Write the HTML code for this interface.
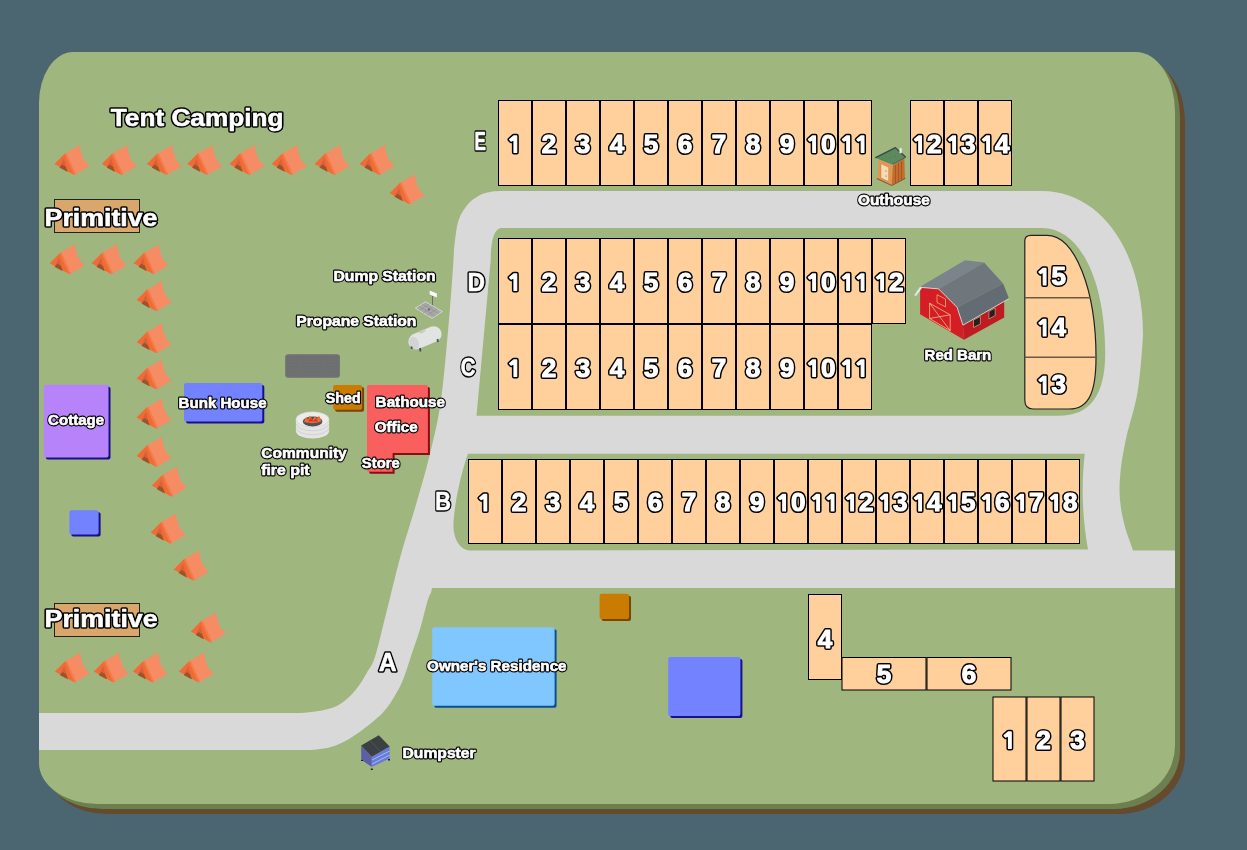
<!DOCTYPE html><html><head><meta charset="utf-8"><style>html,body{margin:0;padding:0;background:#4b6670;}svg{display:block} text{will-change:transform}</style></head><body><svg width="1247" height="850" viewBox="0 0 1247 850"><rect width="1247" height="850" fill="#4b6670"/>
<path d="M 73 52 L 1136 52 A 39 60 0 0 1 1175 112 L 1175 746 A 66 58 0 0 1 1109 804 L 98 804 A 59 41 0 0 1 39 763 L 39 103 A 34 51 0 0 1 73 52 Z" fill="#654a2e" transform="translate(10,10)"/>
<path d="M 73 52 L 1136 52 A 39 60 0 0 1 1175 112 L 1175 746 A 66 58 0 0 1 1109 804 L 98 804 A 59 41 0 0 1 39 763 L 39 103 A 34 51 0 0 1 73 52 Z" fill="#6e7f4f" transform="translate(5,5)"/>
<path d="M 73 52 L 1136 52 A 39 60 0 0 1 1175 112 L 1175 746 A 66 58 0 0 1 1109 804 L 98 804 A 59 41 0 0 1 39 763 L 39 103 A 34 51 0 0 1 73 52 Z" fill="#9fb77f"/>
<path d="M 39 713 L 300 713 C 313.3 712.2 322.3 710.7 330.0 708.5 C 337.7 706.3 341.3 703.4 346.0 699.7 C 350.7 696.0 354.8 691.0 358.2 686.5 C 361.6 682.0 363.9 678.0 366.7 673.0 C 369.5 668.0 371.8 666.6 375.1 656.4 C 378.4 646.2 382.2 628.8 386.5 612.0 C 390.8 595.2 395.7 573.5 400.7 555.4 C 405.7 537.3 411.3 520.9 416.3 503.6 C 421.3 486.3 426.4 469.1 430.5 451.8 C 434.6 434.5 437.9 422.0 441.0 400.0 C 444.1 378.0 446.9 343.3 449.0 320.0 C 451.1 296.7 452.6 272.1 453.5 260.0 C 454.4 247.9 453.4 254.0 454.2 247.4 C 455.0 240.8 456.2 227.6 458.5 220.4 C 460.8 213.2 464.9 208.0 468.1 204.0 C 471.3 200.0 474.5 198.3 477.7 196.4 C 480.9 194.5 483.3 193.4 487.4 192.5 C 491.4 191.6 493.2 191.2 502.0 191.0 L 1042 191 C 1100 191 1143 250 1143 335 C 1142.1 350.3 1140.4 374.5 1137.6 391.8 C 1134.8 409.1 1128.8 425.4 1126.0 438.8 C 1123.2 452.2 1121.5 461.8 1120.5 472.0 C 1119.5 482.2 1119.2 490.8 1120.0 500.0 C 1120.8 509.2 1122.8 518.6 1125.0 527.0 C 1127.2 535.4 1130.2 541.7 1133.0 550.5 L 1175 550.5 L 1175 588 L 432 588 C 431.0 594.7 429.9 593.3 427.8 600.0 C 425.7 606.7 423.1 618.8 420.3 628.2 C 417.5 637.6 413.7 647.9 410.9 656.4 C 408.1 664.9 405.8 672.7 403.3 679.0 C 400.8 685.3 399.2 688.4 395.8 694.0 C 392.4 699.6 388.7 706.5 382.7 712.8 C 376.7 719.1 367.5 726.4 360.0 731.7 C 352.5 737.0 344.7 741.8 337.5 744.8 C 330.3 747.8 324.9 748.6 317.0 749.5 C 309.1 750.4 301.2 749.9 290.0 750.0 L 39 750 Z" fill="#d9d9d9"/>
<path d="M 502 228 L 1042 228 C 1080 228 1105.2 280 1105.2 353.4 C 1105.2 395 1090 415.7 1059 415.7 L 476.5 415.7 L 490.7 260 C 491 240 494 228 502 228 Z" fill="#9fb77f"/>
<path d="M 468 453.8 L 1084.7 453.8 C 1082 480 1081 510 1088 549.5 L 470 550.5 C 458 550 452 535 453.7 520 C 455 500 462 470 468 453.8 Z" fill="#9fb77f"/>
<rect x="498.5" y="100.5" width="33" height="85" fill="#ffd09b" stroke="#000" stroke-width="1"/>
<rect x="532.5" y="100.5" width="33" height="85" fill="#ffd09b" stroke="#000" stroke-width="1"/>
<rect x="566.5" y="100.5" width="33" height="85" fill="#ffd09b" stroke="#000" stroke-width="1"/>
<rect x="600.5" y="100.5" width="33" height="85" fill="#ffd09b" stroke="#000" stroke-width="1"/>
<rect x="634.5" y="100.5" width="33" height="85" fill="#ffd09b" stroke="#000" stroke-width="1"/>
<rect x="668.5" y="100.5" width="33" height="85" fill="#ffd09b" stroke="#000" stroke-width="1"/>
<rect x="702.5" y="100.5" width="33" height="85" fill="#ffd09b" stroke="#000" stroke-width="1"/>
<rect x="736.5" y="100.5" width="33" height="85" fill="#ffd09b" stroke="#000" stroke-width="1"/>
<rect x="770.5" y="100.5" width="33" height="85" fill="#ffd09b" stroke="#000" stroke-width="1"/>
<rect x="804.5" y="100.5" width="33" height="85" fill="#ffd09b" stroke="#000" stroke-width="1"/>
<rect x="838.5" y="100.5" width="33" height="85" fill="#ffd09b" stroke="#000" stroke-width="1"/>
<path d="M -1.3 -16.6 L 1.7 -16.6 L 1.7 0 L -1.0 0 L -1.0 -12.7 L -3.9 -11.3 L -5.4 -13.0 Z" transform="translate(515.00,152.5)" fill="#000" stroke="#000" stroke-width="4.2" stroke-linejoin="round"/>
<path d="M -1.3 -16.6 L 1.7 -16.6 L 1.7 0 L -1.0 0 L -1.0 -12.7 L -3.9 -11.3 L -5.4 -13.0 Z" transform="translate(515.00,152.5)" fill="#fff" stroke="#fff" stroke-width="1.2" stroke-linejoin="round"/>
<text x="549.00" y="152.5" font-size="26" text-anchor="middle" font-family="Liberation Sans" font-weight="bold" stroke-linejoin="round" fill="#000" stroke="#000" stroke-width="4.2">2</text>
<text x="549.00" y="152.5" font-size="26" text-anchor="middle" font-family="Liberation Sans" font-weight="bold" stroke-linejoin="round" fill="#fff" stroke="#fff" stroke-width="1.2">2</text>
<text x="583.00" y="152.5" font-size="26" text-anchor="middle" font-family="Liberation Sans" font-weight="bold" stroke-linejoin="round" fill="#000" stroke="#000" stroke-width="4.2">3</text>
<text x="583.00" y="152.5" font-size="26" text-anchor="middle" font-family="Liberation Sans" font-weight="bold" stroke-linejoin="round" fill="#fff" stroke="#fff" stroke-width="1.2">3</text>
<text x="617.00" y="152.5" font-size="26" text-anchor="middle" font-family="Liberation Sans" font-weight="bold" stroke-linejoin="round" fill="#000" stroke="#000" stroke-width="4.2">4</text>
<text x="617.00" y="152.5" font-size="26" text-anchor="middle" font-family="Liberation Sans" font-weight="bold" stroke-linejoin="round" fill="#fff" stroke="#fff" stroke-width="1.2">4</text>
<text x="651.00" y="152.5" font-size="26" text-anchor="middle" font-family="Liberation Sans" font-weight="bold" stroke-linejoin="round" fill="#000" stroke="#000" stroke-width="4.2">5</text>
<text x="651.00" y="152.5" font-size="26" text-anchor="middle" font-family="Liberation Sans" font-weight="bold" stroke-linejoin="round" fill="#fff" stroke="#fff" stroke-width="1.2">5</text>
<text x="685.00" y="152.5" font-size="26" text-anchor="middle" font-family="Liberation Sans" font-weight="bold" stroke-linejoin="round" fill="#000" stroke="#000" stroke-width="4.2">6</text>
<text x="685.00" y="152.5" font-size="26" text-anchor="middle" font-family="Liberation Sans" font-weight="bold" stroke-linejoin="round" fill="#fff" stroke="#fff" stroke-width="1.2">6</text>
<text x="719.00" y="152.5" font-size="26" text-anchor="middle" font-family="Liberation Sans" font-weight="bold" stroke-linejoin="round" fill="#000" stroke="#000" stroke-width="4.2">7</text>
<text x="719.00" y="152.5" font-size="26" text-anchor="middle" font-family="Liberation Sans" font-weight="bold" stroke-linejoin="round" fill="#fff" stroke="#fff" stroke-width="1.2">7</text>
<text x="753.00" y="152.5" font-size="26" text-anchor="middle" font-family="Liberation Sans" font-weight="bold" stroke-linejoin="round" fill="#000" stroke="#000" stroke-width="4.2">8</text>
<text x="753.00" y="152.5" font-size="26" text-anchor="middle" font-family="Liberation Sans" font-weight="bold" stroke-linejoin="round" fill="#fff" stroke="#fff" stroke-width="1.2">8</text>
<text x="787.00" y="152.5" font-size="26" text-anchor="middle" font-family="Liberation Sans" font-weight="bold" stroke-linejoin="round" fill="#000" stroke="#000" stroke-width="4.2">9</text>
<text x="787.00" y="152.5" font-size="26" text-anchor="middle" font-family="Liberation Sans" font-weight="bold" stroke-linejoin="round" fill="#fff" stroke="#fff" stroke-width="1.2">9</text>
<path d="M -1.3 -16.6 L 1.7 -16.6 L 1.7 0 L -1.0 0 L -1.0 -12.7 L -3.9 -11.3 L -5.4 -13.0 Z" transform="translate(813.77,152.5)" fill="#000" stroke="#000" stroke-width="4.2" stroke-linejoin="round"/>
<text x="828.23" y="152.5" font-size="26" text-anchor="middle" font-family="Liberation Sans" font-weight="bold" stroke-linejoin="round" fill="#000" stroke="#000" stroke-width="4.2">0</text>
<path d="M -1.3 -16.6 L 1.7 -16.6 L 1.7 0 L -1.0 0 L -1.0 -12.7 L -3.9 -11.3 L -5.4 -13.0 Z" transform="translate(813.77,152.5)" fill="#fff" stroke="#fff" stroke-width="1.2" stroke-linejoin="round"/>
<text x="828.23" y="152.5" font-size="26" text-anchor="middle" font-family="Liberation Sans" font-weight="bold" stroke-linejoin="round" fill="#fff" stroke="#fff" stroke-width="1.2">0</text>
<path d="M -1.3 -16.6 L 1.7 -16.6 L 1.7 0 L -1.0 0 L -1.0 -12.7 L -3.9 -11.3 L -5.4 -13.0 Z" transform="translate(847.77,152.5)" fill="#000" stroke="#000" stroke-width="4.2" stroke-linejoin="round"/>
<path d="M -1.3 -16.6 L 1.7 -16.6 L 1.7 0 L -1.0 0 L -1.0 -12.7 L -3.9 -11.3 L -5.4 -13.0 Z" transform="translate(862.23,152.5)" fill="#000" stroke="#000" stroke-width="4.2" stroke-linejoin="round"/>
<path d="M -1.3 -16.6 L 1.7 -16.6 L 1.7 0 L -1.0 0 L -1.0 -12.7 L -3.9 -11.3 L -5.4 -13.0 Z" transform="translate(847.77,152.5)" fill="#fff" stroke="#fff" stroke-width="1.2" stroke-linejoin="round"/>
<path d="M -1.3 -16.6 L 1.7 -16.6 L 1.7 0 L -1.0 0 L -1.0 -12.7 L -3.9 -11.3 L -5.4 -13.0 Z" transform="translate(862.23,152.5)" fill="#fff" stroke="#fff" stroke-width="1.2" stroke-linejoin="round"/>
<rect x="910.5" y="100.5" width="33" height="85" fill="#ffd09b" stroke="#000" stroke-width="1"/>
<rect x="944.5" y="100.5" width="33" height="85" fill="#ffd09b" stroke="#000" stroke-width="1"/>
<rect x="978.5" y="100.5" width="33" height="85" fill="#ffd09b" stroke="#000" stroke-width="1"/>
<path d="M -1.3 -16.6 L 1.7 -16.6 L 1.7 0 L -1.0 0 L -1.0 -12.7 L -3.9 -11.3 L -5.4 -13.0 Z" transform="translate(919.77,152.5)" fill="#000" stroke="#000" stroke-width="4.2" stroke-linejoin="round"/>
<text x="934.23" y="152.5" font-size="26" text-anchor="middle" font-family="Liberation Sans" font-weight="bold" stroke-linejoin="round" fill="#000" stroke="#000" stroke-width="4.2">2</text>
<path d="M -1.3 -16.6 L 1.7 -16.6 L 1.7 0 L -1.0 0 L -1.0 -12.7 L -3.9 -11.3 L -5.4 -13.0 Z" transform="translate(919.77,152.5)" fill="#fff" stroke="#fff" stroke-width="1.2" stroke-linejoin="round"/>
<text x="934.23" y="152.5" font-size="26" text-anchor="middle" font-family="Liberation Sans" font-weight="bold" stroke-linejoin="round" fill="#fff" stroke="#fff" stroke-width="1.2">2</text>
<path d="M -1.3 -16.6 L 1.7 -16.6 L 1.7 0 L -1.0 0 L -1.0 -12.7 L -3.9 -11.3 L -5.4 -13.0 Z" transform="translate(953.77,152.5)" fill="#000" stroke="#000" stroke-width="4.2" stroke-linejoin="round"/>
<text x="968.23" y="152.5" font-size="26" text-anchor="middle" font-family="Liberation Sans" font-weight="bold" stroke-linejoin="round" fill="#000" stroke="#000" stroke-width="4.2">3</text>
<path d="M -1.3 -16.6 L 1.7 -16.6 L 1.7 0 L -1.0 0 L -1.0 -12.7 L -3.9 -11.3 L -5.4 -13.0 Z" transform="translate(953.77,152.5)" fill="#fff" stroke="#fff" stroke-width="1.2" stroke-linejoin="round"/>
<text x="968.23" y="152.5" font-size="26" text-anchor="middle" font-family="Liberation Sans" font-weight="bold" stroke-linejoin="round" fill="#fff" stroke="#fff" stroke-width="1.2">3</text>
<path d="M -1.3 -16.6 L 1.7 -16.6 L 1.7 0 L -1.0 0 L -1.0 -12.7 L -3.9 -11.3 L -5.4 -13.0 Z" transform="translate(987.77,152.5)" fill="#000" stroke="#000" stroke-width="4.2" stroke-linejoin="round"/>
<text x="1002.23" y="152.5" font-size="26" text-anchor="middle" font-family="Liberation Sans" font-weight="bold" stroke-linejoin="round" fill="#000" stroke="#000" stroke-width="4.2">4</text>
<path d="M -1.3 -16.6 L 1.7 -16.6 L 1.7 0 L -1.0 0 L -1.0 -12.7 L -3.9 -11.3 L -5.4 -13.0 Z" transform="translate(987.77,152.5)" fill="#fff" stroke="#fff" stroke-width="1.2" stroke-linejoin="round"/>
<text x="1002.23" y="152.5" font-size="26" text-anchor="middle" font-family="Liberation Sans" font-weight="bold" stroke-linejoin="round" fill="#fff" stroke="#fff" stroke-width="1.2">4</text>
<rect x="498.5" y="238.5" width="33" height="85" fill="#ffd09b" stroke="#000" stroke-width="1"/>
<rect x="532.5" y="238.5" width="33" height="85" fill="#ffd09b" stroke="#000" stroke-width="1"/>
<rect x="566.5" y="238.5" width="33" height="85" fill="#ffd09b" stroke="#000" stroke-width="1"/>
<rect x="600.5" y="238.5" width="33" height="85" fill="#ffd09b" stroke="#000" stroke-width="1"/>
<rect x="634.5" y="238.5" width="33" height="85" fill="#ffd09b" stroke="#000" stroke-width="1"/>
<rect x="668.5" y="238.5" width="33" height="85" fill="#ffd09b" stroke="#000" stroke-width="1"/>
<rect x="702.5" y="238.5" width="33" height="85" fill="#ffd09b" stroke="#000" stroke-width="1"/>
<rect x="736.5" y="238.5" width="33" height="85" fill="#ffd09b" stroke="#000" stroke-width="1"/>
<rect x="770.5" y="238.5" width="33" height="85" fill="#ffd09b" stroke="#000" stroke-width="1"/>
<rect x="804.5" y="238.5" width="33" height="85" fill="#ffd09b" stroke="#000" stroke-width="1"/>
<rect x="838.5" y="238.5" width="33" height="85" fill="#ffd09b" stroke="#000" stroke-width="1"/>
<rect x="872.5" y="238.5" width="33" height="85" fill="#ffd09b" stroke="#000" stroke-width="1"/>
<path d="M -1.3 -16.6 L 1.7 -16.6 L 1.7 0 L -1.0 0 L -1.0 -12.7 L -3.9 -11.3 L -5.4 -13.0 Z" transform="translate(515.00,290.5)" fill="#000" stroke="#000" stroke-width="4.2" stroke-linejoin="round"/>
<path d="M -1.3 -16.6 L 1.7 -16.6 L 1.7 0 L -1.0 0 L -1.0 -12.7 L -3.9 -11.3 L -5.4 -13.0 Z" transform="translate(515.00,290.5)" fill="#fff" stroke="#fff" stroke-width="1.2" stroke-linejoin="round"/>
<text x="549.00" y="290.5" font-size="26" text-anchor="middle" font-family="Liberation Sans" font-weight="bold" stroke-linejoin="round" fill="#000" stroke="#000" stroke-width="4.2">2</text>
<text x="549.00" y="290.5" font-size="26" text-anchor="middle" font-family="Liberation Sans" font-weight="bold" stroke-linejoin="round" fill="#fff" stroke="#fff" stroke-width="1.2">2</text>
<text x="583.00" y="290.5" font-size="26" text-anchor="middle" font-family="Liberation Sans" font-weight="bold" stroke-linejoin="round" fill="#000" stroke="#000" stroke-width="4.2">3</text>
<text x="583.00" y="290.5" font-size="26" text-anchor="middle" font-family="Liberation Sans" font-weight="bold" stroke-linejoin="round" fill="#fff" stroke="#fff" stroke-width="1.2">3</text>
<text x="617.00" y="290.5" font-size="26" text-anchor="middle" font-family="Liberation Sans" font-weight="bold" stroke-linejoin="round" fill="#000" stroke="#000" stroke-width="4.2">4</text>
<text x="617.00" y="290.5" font-size="26" text-anchor="middle" font-family="Liberation Sans" font-weight="bold" stroke-linejoin="round" fill="#fff" stroke="#fff" stroke-width="1.2">4</text>
<text x="651.00" y="290.5" font-size="26" text-anchor="middle" font-family="Liberation Sans" font-weight="bold" stroke-linejoin="round" fill="#000" stroke="#000" stroke-width="4.2">5</text>
<text x="651.00" y="290.5" font-size="26" text-anchor="middle" font-family="Liberation Sans" font-weight="bold" stroke-linejoin="round" fill="#fff" stroke="#fff" stroke-width="1.2">5</text>
<text x="685.00" y="290.5" font-size="26" text-anchor="middle" font-family="Liberation Sans" font-weight="bold" stroke-linejoin="round" fill="#000" stroke="#000" stroke-width="4.2">6</text>
<text x="685.00" y="290.5" font-size="26" text-anchor="middle" font-family="Liberation Sans" font-weight="bold" stroke-linejoin="round" fill="#fff" stroke="#fff" stroke-width="1.2">6</text>
<text x="719.00" y="290.5" font-size="26" text-anchor="middle" font-family="Liberation Sans" font-weight="bold" stroke-linejoin="round" fill="#000" stroke="#000" stroke-width="4.2">7</text>
<text x="719.00" y="290.5" font-size="26" text-anchor="middle" font-family="Liberation Sans" font-weight="bold" stroke-linejoin="round" fill="#fff" stroke="#fff" stroke-width="1.2">7</text>
<text x="753.00" y="290.5" font-size="26" text-anchor="middle" font-family="Liberation Sans" font-weight="bold" stroke-linejoin="round" fill="#000" stroke="#000" stroke-width="4.2">8</text>
<text x="753.00" y="290.5" font-size="26" text-anchor="middle" font-family="Liberation Sans" font-weight="bold" stroke-linejoin="round" fill="#fff" stroke="#fff" stroke-width="1.2">8</text>
<text x="787.00" y="290.5" font-size="26" text-anchor="middle" font-family="Liberation Sans" font-weight="bold" stroke-linejoin="round" fill="#000" stroke="#000" stroke-width="4.2">9</text>
<text x="787.00" y="290.5" font-size="26" text-anchor="middle" font-family="Liberation Sans" font-weight="bold" stroke-linejoin="round" fill="#fff" stroke="#fff" stroke-width="1.2">9</text>
<path d="M -1.3 -16.6 L 1.7 -16.6 L 1.7 0 L -1.0 0 L -1.0 -12.7 L -3.9 -11.3 L -5.4 -13.0 Z" transform="translate(813.77,290.5)" fill="#000" stroke="#000" stroke-width="4.2" stroke-linejoin="round"/>
<text x="828.23" y="290.5" font-size="26" text-anchor="middle" font-family="Liberation Sans" font-weight="bold" stroke-linejoin="round" fill="#000" stroke="#000" stroke-width="4.2">0</text>
<path d="M -1.3 -16.6 L 1.7 -16.6 L 1.7 0 L -1.0 0 L -1.0 -12.7 L -3.9 -11.3 L -5.4 -13.0 Z" transform="translate(813.77,290.5)" fill="#fff" stroke="#fff" stroke-width="1.2" stroke-linejoin="round"/>
<text x="828.23" y="290.5" font-size="26" text-anchor="middle" font-family="Liberation Sans" font-weight="bold" stroke-linejoin="round" fill="#fff" stroke="#fff" stroke-width="1.2">0</text>
<path d="M -1.3 -16.6 L 1.7 -16.6 L 1.7 0 L -1.0 0 L -1.0 -12.7 L -3.9 -11.3 L -5.4 -13.0 Z" transform="translate(847.77,290.5)" fill="#000" stroke="#000" stroke-width="4.2" stroke-linejoin="round"/>
<path d="M -1.3 -16.6 L 1.7 -16.6 L 1.7 0 L -1.0 0 L -1.0 -12.7 L -3.9 -11.3 L -5.4 -13.0 Z" transform="translate(862.23,290.5)" fill="#000" stroke="#000" stroke-width="4.2" stroke-linejoin="round"/>
<path d="M -1.3 -16.6 L 1.7 -16.6 L 1.7 0 L -1.0 0 L -1.0 -12.7 L -3.9 -11.3 L -5.4 -13.0 Z" transform="translate(847.77,290.5)" fill="#fff" stroke="#fff" stroke-width="1.2" stroke-linejoin="round"/>
<path d="M -1.3 -16.6 L 1.7 -16.6 L 1.7 0 L -1.0 0 L -1.0 -12.7 L -3.9 -11.3 L -5.4 -13.0 Z" transform="translate(862.23,290.5)" fill="#fff" stroke="#fff" stroke-width="1.2" stroke-linejoin="round"/>
<path d="M -1.3 -16.6 L 1.7 -16.6 L 1.7 0 L -1.0 0 L -1.0 -12.7 L -3.9 -11.3 L -5.4 -13.0 Z" transform="translate(881.77,290.5)" fill="#000" stroke="#000" stroke-width="4.2" stroke-linejoin="round"/>
<text x="896.23" y="290.5" font-size="26" text-anchor="middle" font-family="Liberation Sans" font-weight="bold" stroke-linejoin="round" fill="#000" stroke="#000" stroke-width="4.2">2</text>
<path d="M -1.3 -16.6 L 1.7 -16.6 L 1.7 0 L -1.0 0 L -1.0 -12.7 L -3.9 -11.3 L -5.4 -13.0 Z" transform="translate(881.77,290.5)" fill="#fff" stroke="#fff" stroke-width="1.2" stroke-linejoin="round"/>
<text x="896.23" y="290.5" font-size="26" text-anchor="middle" font-family="Liberation Sans" font-weight="bold" stroke-linejoin="round" fill="#fff" stroke="#fff" stroke-width="1.2">2</text>
<rect x="498.5" y="324.5" width="33" height="85" fill="#ffd09b" stroke="#000" stroke-width="1"/>
<rect x="532.5" y="324.5" width="33" height="85" fill="#ffd09b" stroke="#000" stroke-width="1"/>
<rect x="566.5" y="324.5" width="33" height="85" fill="#ffd09b" stroke="#000" stroke-width="1"/>
<rect x="600.5" y="324.5" width="33" height="85" fill="#ffd09b" stroke="#000" stroke-width="1"/>
<rect x="634.5" y="324.5" width="33" height="85" fill="#ffd09b" stroke="#000" stroke-width="1"/>
<rect x="668.5" y="324.5" width="33" height="85" fill="#ffd09b" stroke="#000" stroke-width="1"/>
<rect x="702.5" y="324.5" width="33" height="85" fill="#ffd09b" stroke="#000" stroke-width="1"/>
<rect x="736.5" y="324.5" width="33" height="85" fill="#ffd09b" stroke="#000" stroke-width="1"/>
<rect x="770.5" y="324.5" width="33" height="85" fill="#ffd09b" stroke="#000" stroke-width="1"/>
<rect x="804.5" y="324.5" width="33" height="85" fill="#ffd09b" stroke="#000" stroke-width="1"/>
<rect x="838.5" y="324.5" width="33" height="85" fill="#ffd09b" stroke="#000" stroke-width="1"/>
<path d="M -1.3 -16.6 L 1.7 -16.6 L 1.7 0 L -1.0 0 L -1.0 -12.7 L -3.9 -11.3 L -5.4 -13.0 Z" transform="translate(515.00,376.5)" fill="#000" stroke="#000" stroke-width="4.2" stroke-linejoin="round"/>
<path d="M -1.3 -16.6 L 1.7 -16.6 L 1.7 0 L -1.0 0 L -1.0 -12.7 L -3.9 -11.3 L -5.4 -13.0 Z" transform="translate(515.00,376.5)" fill="#fff" stroke="#fff" stroke-width="1.2" stroke-linejoin="round"/>
<text x="549.00" y="376.5" font-size="26" text-anchor="middle" font-family="Liberation Sans" font-weight="bold" stroke-linejoin="round" fill="#000" stroke="#000" stroke-width="4.2">2</text>
<text x="549.00" y="376.5" font-size="26" text-anchor="middle" font-family="Liberation Sans" font-weight="bold" stroke-linejoin="round" fill="#fff" stroke="#fff" stroke-width="1.2">2</text>
<text x="583.00" y="376.5" font-size="26" text-anchor="middle" font-family="Liberation Sans" font-weight="bold" stroke-linejoin="round" fill="#000" stroke="#000" stroke-width="4.2">3</text>
<text x="583.00" y="376.5" font-size="26" text-anchor="middle" font-family="Liberation Sans" font-weight="bold" stroke-linejoin="round" fill="#fff" stroke="#fff" stroke-width="1.2">3</text>
<text x="617.00" y="376.5" font-size="26" text-anchor="middle" font-family="Liberation Sans" font-weight="bold" stroke-linejoin="round" fill="#000" stroke="#000" stroke-width="4.2">4</text>
<text x="617.00" y="376.5" font-size="26" text-anchor="middle" font-family="Liberation Sans" font-weight="bold" stroke-linejoin="round" fill="#fff" stroke="#fff" stroke-width="1.2">4</text>
<text x="651.00" y="376.5" font-size="26" text-anchor="middle" font-family="Liberation Sans" font-weight="bold" stroke-linejoin="round" fill="#000" stroke="#000" stroke-width="4.2">5</text>
<text x="651.00" y="376.5" font-size="26" text-anchor="middle" font-family="Liberation Sans" font-weight="bold" stroke-linejoin="round" fill="#fff" stroke="#fff" stroke-width="1.2">5</text>
<text x="685.00" y="376.5" font-size="26" text-anchor="middle" font-family="Liberation Sans" font-weight="bold" stroke-linejoin="round" fill="#000" stroke="#000" stroke-width="4.2">6</text>
<text x="685.00" y="376.5" font-size="26" text-anchor="middle" font-family="Liberation Sans" font-weight="bold" stroke-linejoin="round" fill="#fff" stroke="#fff" stroke-width="1.2">6</text>
<text x="719.00" y="376.5" font-size="26" text-anchor="middle" font-family="Liberation Sans" font-weight="bold" stroke-linejoin="round" fill="#000" stroke="#000" stroke-width="4.2">7</text>
<text x="719.00" y="376.5" font-size="26" text-anchor="middle" font-family="Liberation Sans" font-weight="bold" stroke-linejoin="round" fill="#fff" stroke="#fff" stroke-width="1.2">7</text>
<text x="753.00" y="376.5" font-size="26" text-anchor="middle" font-family="Liberation Sans" font-weight="bold" stroke-linejoin="round" fill="#000" stroke="#000" stroke-width="4.2">8</text>
<text x="753.00" y="376.5" font-size="26" text-anchor="middle" font-family="Liberation Sans" font-weight="bold" stroke-linejoin="round" fill="#fff" stroke="#fff" stroke-width="1.2">8</text>
<text x="787.00" y="376.5" font-size="26" text-anchor="middle" font-family="Liberation Sans" font-weight="bold" stroke-linejoin="round" fill="#000" stroke="#000" stroke-width="4.2">9</text>
<text x="787.00" y="376.5" font-size="26" text-anchor="middle" font-family="Liberation Sans" font-weight="bold" stroke-linejoin="round" fill="#fff" stroke="#fff" stroke-width="1.2">9</text>
<path d="M -1.3 -16.6 L 1.7 -16.6 L 1.7 0 L -1.0 0 L -1.0 -12.7 L -3.9 -11.3 L -5.4 -13.0 Z" transform="translate(813.77,376.5)" fill="#000" stroke="#000" stroke-width="4.2" stroke-linejoin="round"/>
<text x="828.23" y="376.5" font-size="26" text-anchor="middle" font-family="Liberation Sans" font-weight="bold" stroke-linejoin="round" fill="#000" stroke="#000" stroke-width="4.2">0</text>
<path d="M -1.3 -16.6 L 1.7 -16.6 L 1.7 0 L -1.0 0 L -1.0 -12.7 L -3.9 -11.3 L -5.4 -13.0 Z" transform="translate(813.77,376.5)" fill="#fff" stroke="#fff" stroke-width="1.2" stroke-linejoin="round"/>
<text x="828.23" y="376.5" font-size="26" text-anchor="middle" font-family="Liberation Sans" font-weight="bold" stroke-linejoin="round" fill="#fff" stroke="#fff" stroke-width="1.2">0</text>
<path d="M -1.3 -16.6 L 1.7 -16.6 L 1.7 0 L -1.0 0 L -1.0 -12.7 L -3.9 -11.3 L -5.4 -13.0 Z" transform="translate(847.77,376.5)" fill="#000" stroke="#000" stroke-width="4.2" stroke-linejoin="round"/>
<path d="M -1.3 -16.6 L 1.7 -16.6 L 1.7 0 L -1.0 0 L -1.0 -12.7 L -3.9 -11.3 L -5.4 -13.0 Z" transform="translate(862.23,376.5)" fill="#000" stroke="#000" stroke-width="4.2" stroke-linejoin="round"/>
<path d="M -1.3 -16.6 L 1.7 -16.6 L 1.7 0 L -1.0 0 L -1.0 -12.7 L -3.9 -11.3 L -5.4 -13.0 Z" transform="translate(847.77,376.5)" fill="#fff" stroke="#fff" stroke-width="1.2" stroke-linejoin="round"/>
<path d="M -1.3 -16.6 L 1.7 -16.6 L 1.7 0 L -1.0 0 L -1.0 -12.7 L -3.9 -11.3 L -5.4 -13.0 Z" transform="translate(862.23,376.5)" fill="#fff" stroke="#fff" stroke-width="1.2" stroke-linejoin="round"/>
<rect x="468.5" y="459.5" width="33" height="84" fill="#ffd09b" stroke="#000" stroke-width="1"/>
<rect x="502.5" y="459.5" width="33" height="84" fill="#ffd09b" stroke="#000" stroke-width="1"/>
<rect x="536.5" y="459.5" width="33" height="84" fill="#ffd09b" stroke="#000" stroke-width="1"/>
<rect x="570.5" y="459.5" width="33" height="84" fill="#ffd09b" stroke="#000" stroke-width="1"/>
<rect x="604.5" y="459.5" width="33" height="84" fill="#ffd09b" stroke="#000" stroke-width="1"/>
<rect x="638.5" y="459.5" width="33" height="84" fill="#ffd09b" stroke="#000" stroke-width="1"/>
<rect x="672.5" y="459.5" width="33" height="84" fill="#ffd09b" stroke="#000" stroke-width="1"/>
<rect x="706.5" y="459.5" width="33" height="84" fill="#ffd09b" stroke="#000" stroke-width="1"/>
<rect x="740.5" y="459.5" width="33" height="84" fill="#ffd09b" stroke="#000" stroke-width="1"/>
<rect x="774.5" y="459.5" width="33" height="84" fill="#ffd09b" stroke="#000" stroke-width="1"/>
<rect x="808.5" y="459.5" width="33" height="84" fill="#ffd09b" stroke="#000" stroke-width="1"/>
<rect x="842.5" y="459.5" width="33" height="84" fill="#ffd09b" stroke="#000" stroke-width="1"/>
<rect x="876.5" y="459.5" width="33" height="84" fill="#ffd09b" stroke="#000" stroke-width="1"/>
<rect x="910.5" y="459.5" width="33" height="84" fill="#ffd09b" stroke="#000" stroke-width="1"/>
<rect x="944.5" y="459.5" width="33" height="84" fill="#ffd09b" stroke="#000" stroke-width="1"/>
<rect x="978.5" y="459.5" width="33" height="84" fill="#ffd09b" stroke="#000" stroke-width="1"/>
<rect x="1012.5" y="459.5" width="33" height="84" fill="#ffd09b" stroke="#000" stroke-width="1"/>
<rect x="1046.5" y="459.5" width="33" height="84" fill="#ffd09b" stroke="#000" stroke-width="1"/>
<path d="M -1.3 -16.6 L 1.7 -16.6 L 1.7 0 L -1.0 0 L -1.0 -12.7 L -3.9 -11.3 L -5.4 -13.0 Z" transform="translate(485.00,511.0)" fill="#000" stroke="#000" stroke-width="4.2" stroke-linejoin="round"/>
<path d="M -1.3 -16.6 L 1.7 -16.6 L 1.7 0 L -1.0 0 L -1.0 -12.7 L -3.9 -11.3 L -5.4 -13.0 Z" transform="translate(485.00,511.0)" fill="#fff" stroke="#fff" stroke-width="1.2" stroke-linejoin="round"/>
<text x="519.00" y="511.0" font-size="26" text-anchor="middle" font-family="Liberation Sans" font-weight="bold" stroke-linejoin="round" fill="#000" stroke="#000" stroke-width="4.2">2</text>
<text x="519.00" y="511.0" font-size="26" text-anchor="middle" font-family="Liberation Sans" font-weight="bold" stroke-linejoin="round" fill="#fff" stroke="#fff" stroke-width="1.2">2</text>
<text x="553.00" y="511.0" font-size="26" text-anchor="middle" font-family="Liberation Sans" font-weight="bold" stroke-linejoin="round" fill="#000" stroke="#000" stroke-width="4.2">3</text>
<text x="553.00" y="511.0" font-size="26" text-anchor="middle" font-family="Liberation Sans" font-weight="bold" stroke-linejoin="round" fill="#fff" stroke="#fff" stroke-width="1.2">3</text>
<text x="587.00" y="511.0" font-size="26" text-anchor="middle" font-family="Liberation Sans" font-weight="bold" stroke-linejoin="round" fill="#000" stroke="#000" stroke-width="4.2">4</text>
<text x="587.00" y="511.0" font-size="26" text-anchor="middle" font-family="Liberation Sans" font-weight="bold" stroke-linejoin="round" fill="#fff" stroke="#fff" stroke-width="1.2">4</text>
<text x="621.00" y="511.0" font-size="26" text-anchor="middle" font-family="Liberation Sans" font-weight="bold" stroke-linejoin="round" fill="#000" stroke="#000" stroke-width="4.2">5</text>
<text x="621.00" y="511.0" font-size="26" text-anchor="middle" font-family="Liberation Sans" font-weight="bold" stroke-linejoin="round" fill="#fff" stroke="#fff" stroke-width="1.2">5</text>
<text x="655.00" y="511.0" font-size="26" text-anchor="middle" font-family="Liberation Sans" font-weight="bold" stroke-linejoin="round" fill="#000" stroke="#000" stroke-width="4.2">6</text>
<text x="655.00" y="511.0" font-size="26" text-anchor="middle" font-family="Liberation Sans" font-weight="bold" stroke-linejoin="round" fill="#fff" stroke="#fff" stroke-width="1.2">6</text>
<text x="689.00" y="511.0" font-size="26" text-anchor="middle" font-family="Liberation Sans" font-weight="bold" stroke-linejoin="round" fill="#000" stroke="#000" stroke-width="4.2">7</text>
<text x="689.00" y="511.0" font-size="26" text-anchor="middle" font-family="Liberation Sans" font-weight="bold" stroke-linejoin="round" fill="#fff" stroke="#fff" stroke-width="1.2">7</text>
<text x="723.00" y="511.0" font-size="26" text-anchor="middle" font-family="Liberation Sans" font-weight="bold" stroke-linejoin="round" fill="#000" stroke="#000" stroke-width="4.2">8</text>
<text x="723.00" y="511.0" font-size="26" text-anchor="middle" font-family="Liberation Sans" font-weight="bold" stroke-linejoin="round" fill="#fff" stroke="#fff" stroke-width="1.2">8</text>
<text x="757.00" y="511.0" font-size="26" text-anchor="middle" font-family="Liberation Sans" font-weight="bold" stroke-linejoin="round" fill="#000" stroke="#000" stroke-width="4.2">9</text>
<text x="757.00" y="511.0" font-size="26" text-anchor="middle" font-family="Liberation Sans" font-weight="bold" stroke-linejoin="round" fill="#fff" stroke="#fff" stroke-width="1.2">9</text>
<path d="M -1.3 -16.6 L 1.7 -16.6 L 1.7 0 L -1.0 0 L -1.0 -12.7 L -3.9 -11.3 L -5.4 -13.0 Z" transform="translate(783.77,511.0)" fill="#000" stroke="#000" stroke-width="4.2" stroke-linejoin="round"/>
<text x="798.23" y="511.0" font-size="26" text-anchor="middle" font-family="Liberation Sans" font-weight="bold" stroke-linejoin="round" fill="#000" stroke="#000" stroke-width="4.2">0</text>
<path d="M -1.3 -16.6 L 1.7 -16.6 L 1.7 0 L -1.0 0 L -1.0 -12.7 L -3.9 -11.3 L -5.4 -13.0 Z" transform="translate(783.77,511.0)" fill="#fff" stroke="#fff" stroke-width="1.2" stroke-linejoin="round"/>
<text x="798.23" y="511.0" font-size="26" text-anchor="middle" font-family="Liberation Sans" font-weight="bold" stroke-linejoin="round" fill="#fff" stroke="#fff" stroke-width="1.2">0</text>
<path d="M -1.3 -16.6 L 1.7 -16.6 L 1.7 0 L -1.0 0 L -1.0 -12.7 L -3.9 -11.3 L -5.4 -13.0 Z" transform="translate(817.77,511.0)" fill="#000" stroke="#000" stroke-width="4.2" stroke-linejoin="round"/>
<path d="M -1.3 -16.6 L 1.7 -16.6 L 1.7 0 L -1.0 0 L -1.0 -12.7 L -3.9 -11.3 L -5.4 -13.0 Z" transform="translate(832.23,511.0)" fill="#000" stroke="#000" stroke-width="4.2" stroke-linejoin="round"/>
<path d="M -1.3 -16.6 L 1.7 -16.6 L 1.7 0 L -1.0 0 L -1.0 -12.7 L -3.9 -11.3 L -5.4 -13.0 Z" transform="translate(817.77,511.0)" fill="#fff" stroke="#fff" stroke-width="1.2" stroke-linejoin="round"/>
<path d="M -1.3 -16.6 L 1.7 -16.6 L 1.7 0 L -1.0 0 L -1.0 -12.7 L -3.9 -11.3 L -5.4 -13.0 Z" transform="translate(832.23,511.0)" fill="#fff" stroke="#fff" stroke-width="1.2" stroke-linejoin="round"/>
<path d="M -1.3 -16.6 L 1.7 -16.6 L 1.7 0 L -1.0 0 L -1.0 -12.7 L -3.9 -11.3 L -5.4 -13.0 Z" transform="translate(851.77,511.0)" fill="#000" stroke="#000" stroke-width="4.2" stroke-linejoin="round"/>
<text x="866.23" y="511.0" font-size="26" text-anchor="middle" font-family="Liberation Sans" font-weight="bold" stroke-linejoin="round" fill="#000" stroke="#000" stroke-width="4.2">2</text>
<path d="M -1.3 -16.6 L 1.7 -16.6 L 1.7 0 L -1.0 0 L -1.0 -12.7 L -3.9 -11.3 L -5.4 -13.0 Z" transform="translate(851.77,511.0)" fill="#fff" stroke="#fff" stroke-width="1.2" stroke-linejoin="round"/>
<text x="866.23" y="511.0" font-size="26" text-anchor="middle" font-family="Liberation Sans" font-weight="bold" stroke-linejoin="round" fill="#fff" stroke="#fff" stroke-width="1.2">2</text>
<path d="M -1.3 -16.6 L 1.7 -16.6 L 1.7 0 L -1.0 0 L -1.0 -12.7 L -3.9 -11.3 L -5.4 -13.0 Z" transform="translate(885.77,511.0)" fill="#000" stroke="#000" stroke-width="4.2" stroke-linejoin="round"/>
<text x="900.23" y="511.0" font-size="26" text-anchor="middle" font-family="Liberation Sans" font-weight="bold" stroke-linejoin="round" fill="#000" stroke="#000" stroke-width="4.2">3</text>
<path d="M -1.3 -16.6 L 1.7 -16.6 L 1.7 0 L -1.0 0 L -1.0 -12.7 L -3.9 -11.3 L -5.4 -13.0 Z" transform="translate(885.77,511.0)" fill="#fff" stroke="#fff" stroke-width="1.2" stroke-linejoin="round"/>
<text x="900.23" y="511.0" font-size="26" text-anchor="middle" font-family="Liberation Sans" font-weight="bold" stroke-linejoin="round" fill="#fff" stroke="#fff" stroke-width="1.2">3</text>
<path d="M -1.3 -16.6 L 1.7 -16.6 L 1.7 0 L -1.0 0 L -1.0 -12.7 L -3.9 -11.3 L -5.4 -13.0 Z" transform="translate(919.77,511.0)" fill="#000" stroke="#000" stroke-width="4.2" stroke-linejoin="round"/>
<text x="934.23" y="511.0" font-size="26" text-anchor="middle" font-family="Liberation Sans" font-weight="bold" stroke-linejoin="round" fill="#000" stroke="#000" stroke-width="4.2">4</text>
<path d="M -1.3 -16.6 L 1.7 -16.6 L 1.7 0 L -1.0 0 L -1.0 -12.7 L -3.9 -11.3 L -5.4 -13.0 Z" transform="translate(919.77,511.0)" fill="#fff" stroke="#fff" stroke-width="1.2" stroke-linejoin="round"/>
<text x="934.23" y="511.0" font-size="26" text-anchor="middle" font-family="Liberation Sans" font-weight="bold" stroke-linejoin="round" fill="#fff" stroke="#fff" stroke-width="1.2">4</text>
<path d="M -1.3 -16.6 L 1.7 -16.6 L 1.7 0 L -1.0 0 L -1.0 -12.7 L -3.9 -11.3 L -5.4 -13.0 Z" transform="translate(953.77,511.0)" fill="#000" stroke="#000" stroke-width="4.2" stroke-linejoin="round"/>
<text x="968.23" y="511.0" font-size="26" text-anchor="middle" font-family="Liberation Sans" font-weight="bold" stroke-linejoin="round" fill="#000" stroke="#000" stroke-width="4.2">5</text>
<path d="M -1.3 -16.6 L 1.7 -16.6 L 1.7 0 L -1.0 0 L -1.0 -12.7 L -3.9 -11.3 L -5.4 -13.0 Z" transform="translate(953.77,511.0)" fill="#fff" stroke="#fff" stroke-width="1.2" stroke-linejoin="round"/>
<text x="968.23" y="511.0" font-size="26" text-anchor="middle" font-family="Liberation Sans" font-weight="bold" stroke-linejoin="round" fill="#fff" stroke="#fff" stroke-width="1.2">5</text>
<path d="M -1.3 -16.6 L 1.7 -16.6 L 1.7 0 L -1.0 0 L -1.0 -12.7 L -3.9 -11.3 L -5.4 -13.0 Z" transform="translate(987.77,511.0)" fill="#000" stroke="#000" stroke-width="4.2" stroke-linejoin="round"/>
<text x="1002.23" y="511.0" font-size="26" text-anchor="middle" font-family="Liberation Sans" font-weight="bold" stroke-linejoin="round" fill="#000" stroke="#000" stroke-width="4.2">6</text>
<path d="M -1.3 -16.6 L 1.7 -16.6 L 1.7 0 L -1.0 0 L -1.0 -12.7 L -3.9 -11.3 L -5.4 -13.0 Z" transform="translate(987.77,511.0)" fill="#fff" stroke="#fff" stroke-width="1.2" stroke-linejoin="round"/>
<text x="1002.23" y="511.0" font-size="26" text-anchor="middle" font-family="Liberation Sans" font-weight="bold" stroke-linejoin="round" fill="#fff" stroke="#fff" stroke-width="1.2">6</text>
<path d="M -1.3 -16.6 L 1.7 -16.6 L 1.7 0 L -1.0 0 L -1.0 -12.7 L -3.9 -11.3 L -5.4 -13.0 Z" transform="translate(1021.77,511.0)" fill="#000" stroke="#000" stroke-width="4.2" stroke-linejoin="round"/>
<text x="1036.23" y="511.0" font-size="26" text-anchor="middle" font-family="Liberation Sans" font-weight="bold" stroke-linejoin="round" fill="#000" stroke="#000" stroke-width="4.2">7</text>
<path d="M -1.3 -16.6 L 1.7 -16.6 L 1.7 0 L -1.0 0 L -1.0 -12.7 L -3.9 -11.3 L -5.4 -13.0 Z" transform="translate(1021.77,511.0)" fill="#fff" stroke="#fff" stroke-width="1.2" stroke-linejoin="round"/>
<text x="1036.23" y="511.0" font-size="26" text-anchor="middle" font-family="Liberation Sans" font-weight="bold" stroke-linejoin="round" fill="#fff" stroke="#fff" stroke-width="1.2">7</text>
<path d="M -1.3 -16.6 L 1.7 -16.6 L 1.7 0 L -1.0 0 L -1.0 -12.7 L -3.9 -11.3 L -5.4 -13.0 Z" transform="translate(1055.77,511.0)" fill="#000" stroke="#000" stroke-width="4.2" stroke-linejoin="round"/>
<text x="1070.23" y="511.0" font-size="26" text-anchor="middle" font-family="Liberation Sans" font-weight="bold" stroke-linejoin="round" fill="#000" stroke="#000" stroke-width="4.2">8</text>
<path d="M -1.3 -16.6 L 1.7 -16.6 L 1.7 0 L -1.0 0 L -1.0 -12.7 L -3.9 -11.3 L -5.4 -13.0 Z" transform="translate(1055.77,511.0)" fill="#fff" stroke="#fff" stroke-width="1.2" stroke-linejoin="round"/>
<text x="1070.23" y="511.0" font-size="26" text-anchor="middle" font-family="Liberation Sans" font-weight="bold" stroke-linejoin="round" fill="#fff" stroke="#fff" stroke-width="1.2">8</text>
<rect x="808.5" y="594.5" width="33" height="85" fill="#ffd09b" stroke="#000" stroke-width="1"/>
<rect x="842.0" y="657.5" width="84" height="32.5" fill="#ffd09b" stroke="#000" stroke-width="1"/>
<rect x="927.0" y="657.5" width="84" height="32.5" fill="#ffd09b" stroke="#000" stroke-width="1"/>
<text x="825.00" y="647.5" font-size="26" text-anchor="middle" font-family="Liberation Sans" font-weight="bold" stroke-linejoin="round" fill="#000" stroke="#000" stroke-width="4.2">4</text>
<text x="825.00" y="647.5" font-size="26" text-anchor="middle" font-family="Liberation Sans" font-weight="bold" stroke-linejoin="round" fill="#fff" stroke="#fff" stroke-width="1.2">4</text>
<text x="884.00" y="682.5" font-size="26" text-anchor="middle" font-family="Liberation Sans" font-weight="bold" stroke-linejoin="round" fill="#000" stroke="#000" stroke-width="4.2">5</text>
<text x="884.00" y="682.5" font-size="26" text-anchor="middle" font-family="Liberation Sans" font-weight="bold" stroke-linejoin="round" fill="#fff" stroke="#fff" stroke-width="1.2">5</text>
<text x="969.00" y="682.5" font-size="26" text-anchor="middle" font-family="Liberation Sans" font-weight="bold" stroke-linejoin="round" fill="#000" stroke="#000" stroke-width="4.2">6</text>
<text x="969.00" y="682.5" font-size="26" text-anchor="middle" font-family="Liberation Sans" font-weight="bold" stroke-linejoin="round" fill="#fff" stroke="#fff" stroke-width="1.2">6</text>
<rect x="993.0" y="697.0" width="33" height="84" fill="#ffd09b" stroke="#000" stroke-width="1"/>
<rect x="1027.0" y="697.0" width="33" height="84" fill="#ffd09b" stroke="#000" stroke-width="1"/>
<rect x="1061.0" y="697.0" width="33" height="84" fill="#ffd09b" stroke="#000" stroke-width="1"/>
<path d="M -1.3 -16.6 L 1.7 -16.6 L 1.7 0 L -1.0 0 L -1.0 -12.7 L -3.9 -11.3 L -5.4 -13.0 Z" transform="translate(1009.50,748.5)" fill="#000" stroke="#000" stroke-width="4.2" stroke-linejoin="round"/>
<path d="M -1.3 -16.6 L 1.7 -16.6 L 1.7 0 L -1.0 0 L -1.0 -12.7 L -3.9 -11.3 L -5.4 -13.0 Z" transform="translate(1009.50,748.5)" fill="#fff" stroke="#fff" stroke-width="1.2" stroke-linejoin="round"/>
<text x="1043.50" y="748.5" font-size="26" text-anchor="middle" font-family="Liberation Sans" font-weight="bold" stroke-linejoin="round" fill="#000" stroke="#000" stroke-width="4.2">2</text>
<text x="1043.50" y="748.5" font-size="26" text-anchor="middle" font-family="Liberation Sans" font-weight="bold" stroke-linejoin="round" fill="#fff" stroke="#fff" stroke-width="1.2">2</text>
<text x="1077.50" y="748.5" font-size="26" text-anchor="middle" font-family="Liberation Sans" font-weight="bold" stroke-linejoin="round" fill="#000" stroke="#000" stroke-width="4.2">3</text>
<text x="1077.50" y="748.5" font-size="26" text-anchor="middle" font-family="Liberation Sans" font-weight="bold" stroke-linejoin="round" fill="#fff" stroke="#fff" stroke-width="1.2">3</text>
<path d="M 1031 235.3 L 1047 235.3 C 1075 235.3 1096 290 1096 357.2 C 1096 390 1090 409 1069 409 L 1033 409 C 1027 409 1024.8 405 1024.8 400 L 1024.8 241 C 1024.8 237 1027 235.3 1031 235.3 Z" fill="#ffd09b" stroke="#222" stroke-width="1.2"/>
<line x1="1025" y1="297.8" x2="1091" y2="297.8" stroke="#6a5848" stroke-width="1.5"/>
<line x1="1025" y1="357.2" x2="1096" y2="357.2" stroke="#6a5848" stroke-width="1.5"/>
<path d="M -1.3 -16.6 L 1.7 -16.6 L 1.7 0 L -1.0 0 L -1.0 -12.7 L -3.9 -11.3 L -5.4 -13.0 Z" transform="translate(1044.27,285)" fill="#000" stroke="#000" stroke-width="4.2" stroke-linejoin="round"/>
<text x="1058.73" y="285" font-size="26" text-anchor="middle" font-family="Liberation Sans" font-weight="bold" stroke-linejoin="round" fill="#000" stroke="#000" stroke-width="4.2">5</text>
<path d="M -1.3 -16.6 L 1.7 -16.6 L 1.7 0 L -1.0 0 L -1.0 -12.7 L -3.9 -11.3 L -5.4 -13.0 Z" transform="translate(1044.27,285)" fill="#fff" stroke="#fff" stroke-width="1.2" stroke-linejoin="round"/>
<text x="1058.73" y="285" font-size="26" text-anchor="middle" font-family="Liberation Sans" font-weight="bold" stroke-linejoin="round" fill="#fff" stroke="#fff" stroke-width="1.2">5</text>
<path d="M -1.3 -16.6 L 1.7 -16.6 L 1.7 0 L -1.0 0 L -1.0 -12.7 L -3.9 -11.3 L -5.4 -13.0 Z" transform="translate(1044.27,336)" fill="#000" stroke="#000" stroke-width="4.2" stroke-linejoin="round"/>
<text x="1058.73" y="336" font-size="26" text-anchor="middle" font-family="Liberation Sans" font-weight="bold" stroke-linejoin="round" fill="#000" stroke="#000" stroke-width="4.2">4</text>
<path d="M -1.3 -16.6 L 1.7 -16.6 L 1.7 0 L -1.0 0 L -1.0 -12.7 L -3.9 -11.3 L -5.4 -13.0 Z" transform="translate(1044.27,336)" fill="#fff" stroke="#fff" stroke-width="1.2" stroke-linejoin="round"/>
<text x="1058.73" y="336" font-size="26" text-anchor="middle" font-family="Liberation Sans" font-weight="bold" stroke-linejoin="round" fill="#fff" stroke="#fff" stroke-width="1.2">4</text>
<path d="M -1.3 -16.6 L 1.7 -16.6 L 1.7 0 L -1.0 0 L -1.0 -12.7 L -3.9 -11.3 L -5.4 -13.0 Z" transform="translate(1044.27,393)" fill="#000" stroke="#000" stroke-width="4.2" stroke-linejoin="round"/>
<text x="1058.73" y="393" font-size="26" text-anchor="middle" font-family="Liberation Sans" font-weight="bold" stroke-linejoin="round" fill="#000" stroke="#000" stroke-width="4.2">3</text>
<path d="M -1.3 -16.6 L 1.7 -16.6 L 1.7 0 L -1.0 0 L -1.0 -12.7 L -3.9 -11.3 L -5.4 -13.0 Z" transform="translate(1044.27,393)" fill="#fff" stroke="#fff" stroke-width="1.2" stroke-linejoin="round"/>
<text x="1058.73" y="393" font-size="26" text-anchor="middle" font-family="Liberation Sans" font-weight="bold" stroke-linejoin="round" fill="#fff" stroke="#fff" stroke-width="1.2">3</text>
<rect x="434.2" y="629.2" width="122.40000000000003" height="78.59999999999991" rx="2" fill="#0a4f96"/>
<rect x="432.2" y="627.2" width="122.40000000000003" height="78.59999999999991" rx="2" fill="#80c6ff"/>
<rect x="601.6" y="595.7" width="29.399999999999977" height="25.299999999999955" rx="2" fill="#7a4600"/>
<rect x="599.6" y="593.7" width="29.399999999999977" height="25.299999999999955" rx="2" fill="#c97b02"/>
<rect x="670.2" y="659" width="72.19999999999993" height="59" rx="2" fill="#16118a"/>
<rect x="668.2" y="657" width="72.19999999999993" height="59" rx="2" fill="#7383ff"/>
<rect x="45.8" y="386.8" width="64.7" height="72.69999999999999" rx="2" fill="#1b0f85"/>
<rect x="43.8" y="384.8" width="64.7" height="72.69999999999999" rx="2" fill="#b783fb"/>
<rect x="186" y="384.9" width="78.30000000000001" height="38.5" rx="2" fill="#16118a"/>
<rect x="184" y="382.9" width="78.30000000000001" height="38.5" rx="2" fill="#7383ff"/>
<rect x="71.3" y="512.2" width="29.299999999999997" height="24.400000000000034" rx="2" fill="#16118a"/>
<rect x="69.3" y="510.2" width="29.299999999999997" height="24.400000000000034" rx="2" fill="#7383ff"/>
<defs><pattern id="dots" width="3" height="3" patternUnits="userSpaceOnUse"><rect width="3" height="3" fill="#6e6f71"/><circle cx="1.5" cy="1.5" r="0.5" fill="#747577"/></pattern></defs>
<rect x="285.2" y="354.2" width="54.7" height="23.5" rx="3" fill="url(#dots)"/>
<rect x="335.1" y="387.1" width="29.0" height="24.599999999999966" rx="2" fill="#7a4600"/>
<rect x="333.1" y="385.1" width="29.0" height="24.599999999999966" rx="2" fill="#c97b02"/>
<path d="M 369 385.1 L 425.9 385.1 Q 427.9 385.1 427.9 387.1 L 427.9 453 L 392.6 453 L 392.6 471.7 L 369 471.7 Q 367 471.7 367 469.7 L 367 387.1 Q 367 385.1 369 385.1 Z" fill="#8a0c14" transform="translate(2,2)"/>
<path d="M 369 385.1 L 425.9 385.1 Q 427.9 385.1 427.9 387.1 L 427.9 453 L 392.6 453 L 392.6 471.7 L 369 471.7 Q 367 471.7 367 469.7 L 367 387.1 Q 367 385.1 369 385.1 Z" fill="#fa5f5f"/>
<rect x="54.5" y="199.5" width="85" height="33" fill="#d9a66c" stroke="#222" stroke-width="1"/>
<rect x="54.5" y="603.5" width="85" height="33" fill="#d9a66c" stroke="#222" stroke-width="1"/>
<defs><g id="tent">
<path d="M 10.4 8.7 L 25.6 0 Q 26.6 14.5 35.3 21.2 L 20 30.1 Z" fill="#f58c63"/>
<path d="M 0.2 19 L 10.4 8.7 L 20 30.1 Z" fill="#f26a34"/>
<path d="M 10.4 8.7 L 12 8.2 L 21.5 29.2 L 20 30.1 Z" fill="#f47a48"/>
<path d="M 9.6 13.5 L 5.2 22.5 L 13.2 26.8 Z" fill="#d6603f"/>
<path d="M 8 19.5 L 5.2 22.5 L 13.2 26.8 L 11.6 22 Z" fill="#9a5527"/>
</g></defs>
<use href="#tent" x="54.3" y="145"/>
<use href="#tent" x="101.6" y="145"/>
<use href="#tent" x="146.6" y="145"/>
<use href="#tent" x="187" y="145"/>
<use href="#tent" x="229.3" y="145"/>
<use href="#tent" x="271.5" y="145"/>
<use href="#tent" x="314.4" y="145"/>
<use href="#tent" x="359.4" y="145"/>
<use href="#tent" x="389.4" y="174.2"/>
<use href="#tent" x="49.5" y="244.2"/>
<use href="#tent" x="91.4" y="244.2"/>
<use href="#tent" x="133.4" y="244.2"/>
<use href="#tent" x="136.4" y="281.1"/>
<use href="#tent" x="136.4" y="323.2"/>
<use href="#tent" x="136.4" y="359.5"/>
<use href="#tent" x="136.4" y="398.6"/>
<use href="#tent" x="136.4" y="436.9"/>
<use href="#tent" x="151.6" y="466.6"/>
<use href="#tent" x="150.5" y="513.6"/>
<use href="#tent" x="173.5" y="550.6"/>
<use href="#tent" x="190.6" y="612.5"/>
<use href="#tent" x="54.7" y="652.5"/>
<use href="#tent" x="93.6" y="652.5"/>
<use href="#tent" x="132.6" y="652.5"/>
<use href="#tent" x="178.6" y="652.5"/>
<polygon points="920.1,287.3 938.6,288.9 957.1,307.4 962.9,324.9 964.0,339.7 920.1,314.3" fill="#d41d25"/>
<polygon points="962.9,324.9 1004.2,301.6 1004.2,317.4 964.0,339.7" fill="#bf1b22"/>
<polygon points="914.2,295.2 920.1,286.8 922.0,288.0 916.0,296.0" fill="#e8e8e8"/>
<polygon points="920.1,286.8 965.0,260.3 984.1,262.4 938.6,288.9" fill="#7b848a"/>
<polygon points="938.6,288.9 984.1,262.4 1003.1,283.6 957.1,307.4" fill="#6f777d"/>
<polygon points="957.1,307.4 1003.1,283.6 1009.0,298.4 962.9,325.4" fill="#646c73"/>
<polyline points="920.1,287.3 938.6,288.9 957.1,307.4 962.9,325" fill="none" stroke="#e9e3d8" stroke-width="0.8"/>
<line x1="962.9" y1="325.2" x2="1009" y2="298.6" stroke="#e9e3d8" stroke-width="0.8"/>
<polygon points="929.6,303.2 950.2,314.8 950.2,330.7 929.6,318.5" fill="#d41d25" stroke="#f0c080" stroke-width="0.8"/>
<path d="M929.6 303.2 L950.2 330.7 M950.2 314.8 L929.6 318.5" stroke="#f0d0a0" stroke-width="0.7"/>
<polygon points="937.0,294.7 945.5,299.0 945.5,306.9 937.0,302.5" fill="#d41d25" stroke="#f0c080" stroke-width="0.7"/>
<polygon points="973.5,320.0 980.4,316.5 980.4,324.0 973.5,327.5" fill="#222" stroke="#f0c080" stroke-width="0.6"/>
<polygon points="988.9,311.5 995.2,308.0 995.2,315.5 988.9,319.0" fill="#222" stroke="#f0c080" stroke-width="0.6"/>
<polygon points="877.3,178.7 878.6,159.5 892.9,165.5 891.7,184.9" fill="#e39552"/>
<polygon points="880.8,164.0 888.2,167.5 888.2,181.5 880.8,178.0" fill="#f7dcb2"/>
<path d="M880.8 164 L880.8 178 L888.2 181.5" fill="none" stroke="#c77a3a" stroke-width="0.7"/>
<polygon points="892.9,165.5 904.4,158.5 904.9,178.3 891.7,184.9" fill="#c46d2e"/>
<path d="M895.5 165 L895.5 183.5 M898.5 163.2 L898.5 181.8 M901.5 161.5 L901.5 180" stroke="#9f5520" stroke-width="0.9"/>
<circle cx="886" cy="171" r="0.5" fill="#445"/><circle cx="886" cy="176" r="0.5" fill="#445"/>
<polygon points="875.2,157.3 895.4,147.4 905.7,157.3 892.9,164.3" fill="#5c8a5d"/>
<polyline points="875.2,157.8 895.4,147.6 905.7,157.3" fill="none" stroke="#3d4748" stroke-width="1.3" stroke-linejoin="round"/>
<line x1="892.9" y1="164.3" x2="905.7" y2="157.3" stroke="#3d4748" stroke-width="0.8"/>
<line x1="875.2" y1="157.3" x2="892.9" y2="164.3" stroke="#4a6a50" stroke-width="0.6"/>
<rect x="899.5" y="148.2" width="2.2" height="5" fill="#eeeeee"/>
<path d="M876.8 178.5 L891.7 185.5 L905.3 178.3" fill="none" stroke="#8a5a30" stroke-width="1.1"/>
<circle cx="890" cy="157.5" r="0.6" fill="#3a70c0"/><circle cx="895.5" cy="156" r="0.6" fill="#3a70c0"/>
<polygon points="415.3,308.2 425.4,301.8 442.4,311.5 432.2,318.3" fill="#a9a9a9" stroke="#e0e0e0" stroke-width="0.8"/>
<path d="M418.7 306 L435.6 316.1 M422 303.9 L438.9 313.7 M419.2 310.6 L429.3 304.1 M423 313 L433.1 306.5 M426.8 315.4 L436.9 308.9" stroke="#8a8a8a" stroke-width="0.5"/>
<circle cx="429" cy="309.5" r="0.9" fill="#555"/>
<line x1="432.5" y1="296" x2="432.5" y2="305" stroke="#666" stroke-width="0.9"/>
<polygon points="429.7,290.4 436.9,293.5 436.9,297.5 429.7,294.4" fill="#fafafa"/>
<g transform="translate(425,337.8) rotate(-23)"><rect x="-17.4" y="-7.8" width="34.8" height="15.6" rx="7.8" fill="#e2e3e3"/><ellipse cx="-12" cy="0.5" rx="4.5" ry="6.5" fill="#d2d3d3"/><ellipse cx="0" cy="-7" rx="3.5" ry="1.4" fill="#c8c9c9"/></g>
<path d="M420 348 L420.5 351.5 M437.5 339 L438 342 M411.5 346.5 L411.8 349" stroke="#4a5058" stroke-width="1.8"/>
<path d="M 295.9 419.4 L 295.9 431 A 16.6 7.6 0 0 0 329.1 431 L 329.1 419.4 Z" fill="#e4e4e4"/>
<path d="M 296 424 A 16.6 7.6 0 0 0 329 424 M 296 428 A 16.6 7.6 0 0 0 329 428" fill="none" stroke="#c9c9c9" stroke-width="0.7"/>
<ellipse cx="312.5" cy="419.4" rx="16.6" ry="7.6" fill="#ececec" stroke="#d0d0d0" stroke-width="0.6"/>
<ellipse cx="312.6" cy="421.5" rx="9.8" ry="5" fill="#4d5258"/>
<path d="M304 422 L306 417 L308 419.5 L310 415.5 L312.5 420 L315 416 L317 419 L319 415.5 L321.5 421.5 Q 313 424.5 304 422 Z" fill="#f26a2c"/>
<path d="M308 421.5 L310.5 418 L313 421 L316 418.5 L318 421.5 Z" fill="#d9322a"/>
<polygon points="361.2,745.6 371.8,756.8 371.8,767.0 361.2,759.7" fill="#5a5fa8"/>
<polygon points="371.8,756.8 389.7,746.5 389.7,758.5 371.8,767.0" fill="#6f78d8"/>
<path d="M372 760 L389.7 751 M372 764 L389.7 755" stroke="#8fd0f0" stroke-width="0.9"/>
<polygon points="361.2,745.6 378.8,735.3 389.7,746.5 371.8,756.8" fill="#3b4042"/>
<line x1="370" y1="740.5" x2="380.5" y2="751.5" stroke="#50565a" stroke-width="1"/>
<path d="M371.8 768.5 v1.5 M389 759 v1.5 M362 760 v1" stroke="#222" stroke-width="2"/>
<text x="110.74" y="125.70" font-size="24.00" text-anchor="start" font-family="Liberation Sans" font-weight="bold" stroke-linejoin="round" textLength="172.80" lengthAdjust="spacingAndGlyphs" fill="#000" stroke="#000" stroke-width="3.4">Tent Camping</text>
<text x="110.74" y="125.70" font-size="24.00" text-anchor="start" font-family="Liberation Sans" font-weight="bold" stroke-linejoin="round" textLength="172.80" lengthAdjust="spacingAndGlyphs" fill="#fff" stroke="#fff" stroke-width="0.6">Tent Camping</text>
<text x="44.63" y="225.90" font-size="24.00" text-anchor="start" font-family="Liberation Sans" font-weight="bold" stroke-linejoin="round" textLength="112.78" lengthAdjust="spacingAndGlyphs" fill="#000" stroke="#000" stroke-width="3.4">Primitive</text>
<text x="44.63" y="225.90" font-size="24.00" text-anchor="start" font-family="Liberation Sans" font-weight="bold" stroke-linejoin="round" textLength="112.78" lengthAdjust="spacingAndGlyphs" fill="#fff" stroke="#fff" stroke-width="0.6">Primitive</text>
<text x="44.63" y="626.60" font-size="24.00" text-anchor="start" font-family="Liberation Sans" font-weight="bold" stroke-linejoin="round" textLength="112.99" lengthAdjust="spacingAndGlyphs" fill="#000" stroke="#000" stroke-width="3.4">Primitive</text>
<text x="44.63" y="626.60" font-size="24.00" text-anchor="start" font-family="Liberation Sans" font-weight="bold" stroke-linejoin="round" textLength="112.99" lengthAdjust="spacingAndGlyphs" fill="#fff" stroke="#fff" stroke-width="0.6">Primitive</text>
<text x="333.40" y="281.00" font-size="14.60" text-anchor="start" font-family="Liberation Sans" font-weight="bold" stroke-linejoin="round" textLength="102.34" lengthAdjust="spacingAndGlyphs" fill="#000" stroke="#000" stroke-width="2.8">Dump Station</text>
<text x="333.40" y="281.00" font-size="14.60" text-anchor="start" font-family="Liberation Sans" font-weight="bold" stroke-linejoin="round" textLength="102.34" lengthAdjust="spacingAndGlyphs" fill="#fff" stroke="#fff" stroke-width="0.6">Dump Station</text>
<text x="296.30" y="326.20" font-size="14.60" text-anchor="start" font-family="Liberation Sans" font-weight="bold" stroke-linejoin="round" textLength="120.10" lengthAdjust="spacingAndGlyphs" fill="#000" stroke="#000" stroke-width="2.8">Propane Station</text>
<text x="296.30" y="326.20" font-size="14.60" text-anchor="start" font-family="Liberation Sans" font-weight="bold" stroke-linejoin="round" textLength="120.10" lengthAdjust="spacingAndGlyphs" fill="#fff" stroke="#fff" stroke-width="0.6">Propane Station</text>
<text x="325.77" y="402.90" font-size="14.60" text-anchor="start" font-family="Liberation Sans" font-weight="bold" stroke-linejoin="round" textLength="34.96" lengthAdjust="spacingAndGlyphs" fill="#000" stroke="#000" stroke-width="2.8">Shed</text>
<text x="325.77" y="402.90" font-size="14.60" text-anchor="start" font-family="Liberation Sans" font-weight="bold" stroke-linejoin="round" textLength="34.96" lengthAdjust="spacingAndGlyphs" fill="#fff" stroke="#fff" stroke-width="0.6">Shed</text>
<text x="375.63" y="406.80" font-size="14.60" text-anchor="start" font-family="Liberation Sans" font-weight="bold" stroke-linejoin="round" textLength="69.42" lengthAdjust="spacingAndGlyphs" fill="#000" stroke="#000" stroke-width="2.8">Bathouse</text>
<text x="375.63" y="406.80" font-size="14.60" text-anchor="start" font-family="Liberation Sans" font-weight="bold" stroke-linejoin="round" textLength="69.42" lengthAdjust="spacingAndGlyphs" fill="#fff" stroke="#fff" stroke-width="0.6">Bathouse</text>
<text x="374.79" y="432.40" font-size="14.60" text-anchor="start" font-family="Liberation Sans" font-weight="bold" stroke-linejoin="round" textLength="42.92" lengthAdjust="spacingAndGlyphs" fill="#000" stroke="#000" stroke-width="2.8">Office</text>
<text x="374.79" y="432.40" font-size="14.60" text-anchor="start" font-family="Liberation Sans" font-weight="bold" stroke-linejoin="round" textLength="42.92" lengthAdjust="spacingAndGlyphs" fill="#fff" stroke="#fff" stroke-width="0.6">Office</text>
<text x="361.86" y="467.70" font-size="14.60" text-anchor="start" font-family="Liberation Sans" font-weight="bold" stroke-linejoin="round" textLength="37.88" lengthAdjust="spacingAndGlyphs" fill="#000" stroke="#000" stroke-width="2.8">Store</text>
<text x="361.86" y="467.70" font-size="14.60" text-anchor="start" font-family="Liberation Sans" font-weight="bold" stroke-linejoin="round" textLength="37.88" lengthAdjust="spacingAndGlyphs" fill="#fff" stroke="#fff" stroke-width="0.6">Store</text>
<text x="261.38" y="458.10" font-size="14.60" text-anchor="start" font-family="Liberation Sans" font-weight="bold" stroke-linejoin="round" textLength="85.38" lengthAdjust="spacingAndGlyphs" fill="#000" stroke="#000" stroke-width="2.8">Community</text>
<text x="261.38" y="458.10" font-size="14.60" text-anchor="start" font-family="Liberation Sans" font-weight="bold" stroke-linejoin="round" textLength="85.38" lengthAdjust="spacingAndGlyphs" fill="#fff" stroke="#fff" stroke-width="0.6">Community</text>
<text x="261.18" y="474.60" font-size="14.60" text-anchor="start" font-family="Liberation Sans" font-weight="bold" stroke-linejoin="round" textLength="48.47" lengthAdjust="spacingAndGlyphs" fill="#000" stroke="#000" stroke-width="2.8">fire pit</text>
<text x="261.18" y="474.60" font-size="14.60" text-anchor="start" font-family="Liberation Sans" font-weight="bold" stroke-linejoin="round" textLength="48.47" lengthAdjust="spacingAndGlyphs" fill="#fff" stroke="#fff" stroke-width="0.6">fire pit</text>
<text x="48.10" y="425.40" font-size="14.60" text-anchor="start" font-family="Liberation Sans" font-weight="bold" stroke-linejoin="round" textLength="55.99" lengthAdjust="spacingAndGlyphs" fill="#000" stroke="#000" stroke-width="2.8">Cottage</text>
<text x="48.10" y="425.40" font-size="14.60" text-anchor="start" font-family="Liberation Sans" font-weight="bold" stroke-linejoin="round" textLength="55.99" lengthAdjust="spacingAndGlyphs" fill="#fff" stroke="#fff" stroke-width="0.6">Cottage</text>
<text x="178.54" y="408.10" font-size="14.60" text-anchor="start" font-family="Liberation Sans" font-weight="bold" stroke-linejoin="round" textLength="88.07" lengthAdjust="spacingAndGlyphs" fill="#000" stroke="#000" stroke-width="2.8">Bunk House</text>
<text x="178.54" y="408.10" font-size="14.60" text-anchor="start" font-family="Liberation Sans" font-weight="bold" stroke-linejoin="round" textLength="88.07" lengthAdjust="spacingAndGlyphs" fill="#fff" stroke="#fff" stroke-width="0.6">Bunk House</text>
<text x="427.09" y="670.80" font-size="14.60" text-anchor="start" font-family="Liberation Sans" font-weight="bold" stroke-linejoin="round" textLength="139.46" lengthAdjust="spacingAndGlyphs" fill="#000" stroke="#000" stroke-width="2.8">Owner&#39;s Residence</text>
<text x="427.09" y="670.80" font-size="14.60" text-anchor="start" font-family="Liberation Sans" font-weight="bold" stroke-linejoin="round" textLength="139.46" lengthAdjust="spacingAndGlyphs" fill="#fff" stroke="#fff" stroke-width="0.6">Owner&#39;s Residence</text>
<text x="402.50" y="757.90" font-size="14.60" text-anchor="start" font-family="Liberation Sans" font-weight="bold" stroke-linejoin="round" textLength="73.17" lengthAdjust="spacingAndGlyphs" fill="#000" stroke="#000" stroke-width="2.8">Dumpster</text>
<text x="402.50" y="757.90" font-size="14.60" text-anchor="start" font-family="Liberation Sans" font-weight="bold" stroke-linejoin="round" textLength="73.17" lengthAdjust="spacingAndGlyphs" fill="#fff" stroke="#fff" stroke-width="0.6">Dumpster</text>
<text x="857.98" y="204.70" font-size="14.60" text-anchor="start" font-family="Liberation Sans" font-weight="bold" stroke-linejoin="round" textLength="71.78" lengthAdjust="spacingAndGlyphs" fill="#000" stroke="#000" stroke-width="2.8">Outhouse</text>
<text x="857.98" y="204.70" font-size="14.60" text-anchor="start" font-family="Liberation Sans" font-weight="bold" stroke-linejoin="round" textLength="71.78" lengthAdjust="spacingAndGlyphs" fill="#fff" stroke="#fff" stroke-width="0.6">Outhouse</text>
<text x="924.55" y="359.60" font-size="14.60" text-anchor="start" font-family="Liberation Sans" font-weight="bold" stroke-linejoin="round" textLength="66.73" lengthAdjust="spacingAndGlyphs" fill="#000" stroke="#000" stroke-width="2.8">Red Barn</text>
<text x="924.55" y="359.60" font-size="14.60" text-anchor="start" font-family="Liberation Sans" font-weight="bold" stroke-linejoin="round" textLength="66.73" lengthAdjust="spacingAndGlyphs" fill="#fff" stroke="#fff" stroke-width="0.6">Red Barn</text>
<text x="474.40" y="150.10" font-size="26.00" text-anchor="start" font-family="Liberation Sans" font-weight="bold" stroke-linejoin="round" textLength="11.43" lengthAdjust="spacingAndGlyphs" fill="#000" stroke="#000" stroke-width="3.6">E</text>
<text x="474.40" y="150.10" font-size="26.00" text-anchor="start" font-family="Liberation Sans" font-weight="bold" stroke-linejoin="round" textLength="11.43" lengthAdjust="spacingAndGlyphs" fill="#fff" stroke="#fff" stroke-width="0.6">E</text>
<text x="467.50" y="290.60" font-size="26.00" text-anchor="start" font-family="Liberation Sans" font-weight="bold" stroke-linejoin="round" textLength="17.52" lengthAdjust="spacingAndGlyphs" fill="#000" stroke="#000" stroke-width="3.6">D</text>
<text x="467.50" y="290.60" font-size="26.00" text-anchor="start" font-family="Liberation Sans" font-weight="bold" stroke-linejoin="round" textLength="17.52" lengthAdjust="spacingAndGlyphs" fill="#fff" stroke="#fff" stroke-width="0.6">D</text>
<text x="460.79" y="375.70" font-size="26.00" text-anchor="start" font-family="Liberation Sans" font-weight="bold" stroke-linejoin="round" textLength="14.67" lengthAdjust="spacingAndGlyphs" fill="#000" stroke="#000" stroke-width="3.6">C</text>
<text x="460.79" y="375.70" font-size="26.00" text-anchor="start" font-family="Liberation Sans" font-weight="bold" stroke-linejoin="round" textLength="14.67" lengthAdjust="spacingAndGlyphs" fill="#fff" stroke="#fff" stroke-width="0.6">C</text>
<text x="435.27" y="510.20" font-size="26.00" text-anchor="start" font-family="Liberation Sans" font-weight="bold" stroke-linejoin="round" textLength="15.75" lengthAdjust="spacingAndGlyphs" fill="#000" stroke="#000" stroke-width="3.6">B</text>
<text x="435.27" y="510.20" font-size="26.00" text-anchor="start" font-family="Liberation Sans" font-weight="bold" stroke-linejoin="round" textLength="15.75" lengthAdjust="spacingAndGlyphs" fill="#fff" stroke="#fff" stroke-width="0.6">B</text>
<text x="378.66" y="671.20" font-size="26.00" text-anchor="start" font-family="Liberation Sans" font-weight="bold" stroke-linejoin="round" textLength="17.84" lengthAdjust="spacingAndGlyphs" fill="#000" stroke="#000" stroke-width="3.6">A</text>
<text x="378.66" y="671.20" font-size="26.00" text-anchor="start" font-family="Liberation Sans" font-weight="bold" stroke-linejoin="round" textLength="17.84" lengthAdjust="spacingAndGlyphs" fill="#fff" stroke="#fff" stroke-width="0.6">A</text></svg></body></html>
